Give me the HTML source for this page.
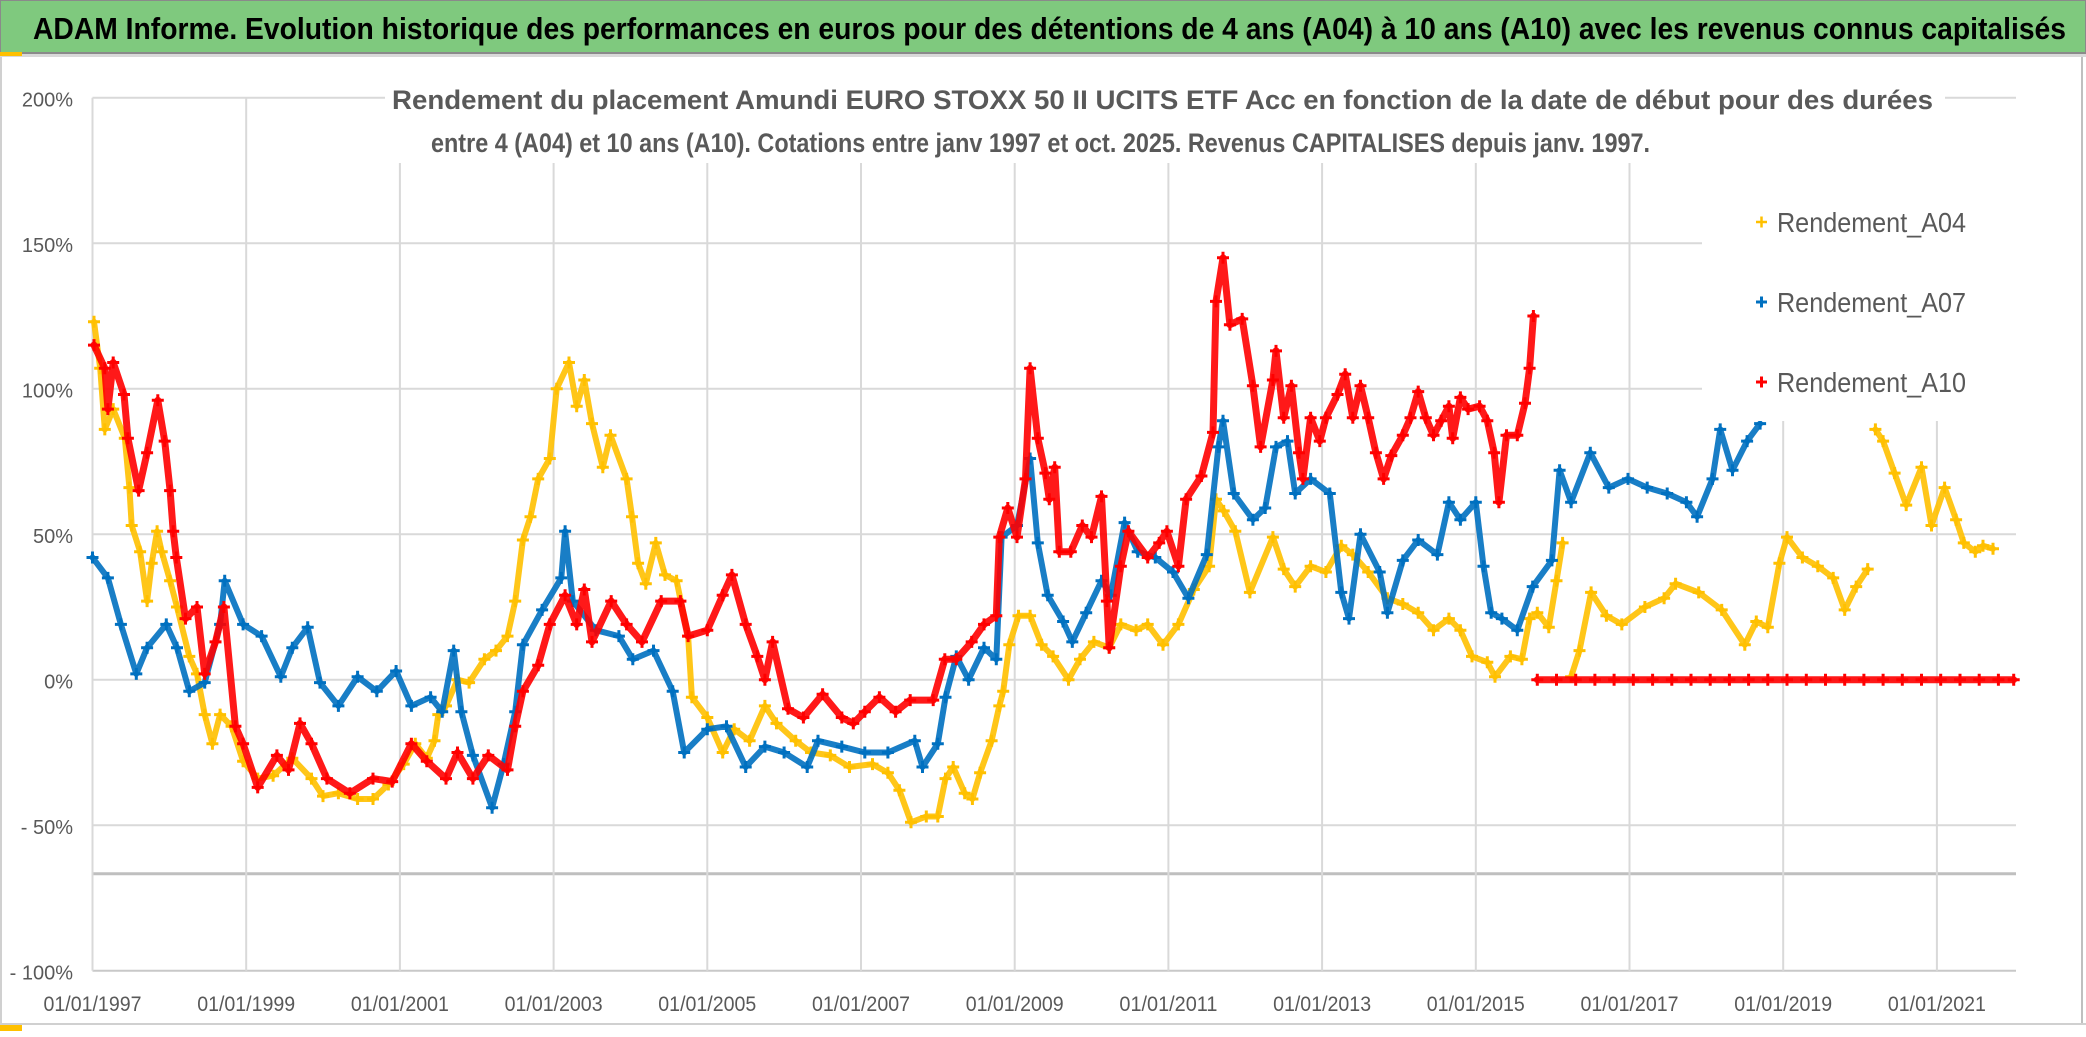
<!DOCTYPE html>
<html><head><meta charset="utf-8">
<style>
html,body{margin:0;padding:0;background:#fff;}
body{width:2086px;height:1032px;overflow:hidden;font-family:"Liberation Sans",sans-serif;}
svg text{font-family:"Liberation Sans",sans-serif;}
</style></head>
<body>
<svg id="chart" width="2086" height="1032" viewBox="0 0 2086 1032" xmlns="http://www.w3.org/2000/svg">
  <rect x="0" y="0" width="2086" height="1032" fill="#ffffff"/>
  <rect x="0" y="0" width="2086" height="53" fill="#7fc97e" stroke="#8a8a8a" stroke-width="2"/>
  <text x="33" y="39" font-size="31" font-weight="bold" fill="#000" textLength="2033" lengthAdjust="spacingAndGlyphs">ADAM Informe. Evolution historique des performances en euros pour des détentions de 4 ans (A04) à 10 ans (A10) avec les revenus connus capitalisés</text>
  <rect x="0" y="54" width="2086" height="3" fill="#d9d9d9"/>
  <rect x="0" y="52" width="22" height="4" fill="#ffc000"/>
  <line x1="1" y1="57" x2="1" y2="1025" stroke="#d0d0d0" stroke-width="2"/>
  <line x1="2082" y1="57" x2="2082" y2="1025" stroke="#bfbfbf" stroke-width="2"/>
  <line x1="0" y1="1024" x2="2086" y2="1024" stroke="#d0d0d0" stroke-width="2"/>
  <rect x="0" y="1025" width="22" height="6" fill="#ffc000"/>
  <g id="grid"></g>
  <g id="series"></g>
  <rect x="385" y="62" width="1560" height="101" fill="#ffffff"/>
  <text x="392" y="109" font-size="27" font-weight="bold" fill="#595959" textLength="1541" lengthAdjust="spacingAndGlyphs">Rendement du placement Amundi EURO STOXX 50 II UCITS ETF Acc en fonction de la date de début pour des durées</text>
  <text x="431" y="152" font-size="27" font-weight="bold" fill="#595959" textLength="1219" lengthAdjust="spacingAndGlyphs">entre 4 (A04) et 10 ans (A10). Cotations entre janv 1997 et oct. 2025. Revenus CAPITALISES depuis janv. 1997.</text>
  <rect x="1702" y="163" width="314" height="258" fill="#ffffff"/>
  <g>
    <g>
      <path d="M1756 222 h11 M1761.5 216.5 v11" stroke="#ffc000" stroke-width="2.5"/>
      <text x="1777" y="232" font-size="28" fill="#595959" textLength="189" lengthAdjust="spacingAndGlyphs">Rendement_A04</text>
    </g>
    <g>
      <path d="M1756 302 h11 M1761.5 296.5 v11" stroke="#0070c0" stroke-width="3"/>
      <text x="1777" y="312" font-size="28" fill="#595959" textLength="189" lengthAdjust="spacingAndGlyphs">Rendement_A07</text>
    </g>
    <g>
      <path d="M1756 382 h11 M1761.5 376.5 v11" stroke="#ff0000" stroke-width="3"/>
      <text x="1777" y="392" font-size="28" fill="#595959" textLength="189" lengthAdjust="spacingAndGlyphs">Rendement_A10</text>
    </g>
  </g>
  <g id="axes"></g>
</svg>
<script>
const yTicks = [200, 150, 100, 50, 0, -50, -100];
const yTickLabels = ["200%", "150%", "100%", "50%", "0%", "- 50%", "- 100%"];
const xTicks = [1997, 1999, 2001, 2003, 2005, 2007, 2009, 2011, 2013, 2015, 2017, 2019, 2021];
const xTickLabels = ["01/01/1997","01/01/1999","01/01/2001","01/01/2003","01/01/2005","01/01/2007","01/01/2009","01/01/2011","01/01/2013","01/01/2015","01/01/2017","01/01/2019","01/01/2021"];
const extraLineValue = -66.7;

const a04Dates = [1997.02,1997.1,1997.16,1997.27,1997.42,1997.48,1997.51,1997.62,1997.71,1997.77,1997.84,1997.9,1998.01,1998.1,1998.26,1998.36,1998.46,1998.56,1998.66,1998.81,1998.96,1999.15,1999.35,1999.6,1999.85,2000.0,2000.2,2000.45,2000.65,2000.85,2001.05,2001.2,2001.35,2001.45,2001.5,2001.6,2001.75,2001.9,2002.1,2002.25,2002.4,2002.5,2002.6,2002.7,2002.8,2002.95,2003.04,2003.2,2003.3,2003.4,2003.5,2003.64,2003.74,2003.95,2004.02,2004.1,2004.2,2004.33,2004.45,2004.6,2004.75,2004.8,2005.0,2005.2,2005.35,2005.55,2005.75,2005.9,2006.15,2006.35,2006.6,2006.85,2007.15,2007.35,2007.5,2007.65,2007.85,2008.0,2008.1,2008.2,2008.35,2008.45,2008.55,2008.7,2008.8,2008.85,2008.93,2009.05,2009.2,2009.35,2009.5,2009.7,2009.85,2010.03,2010.23,2010.38,2010.58,2010.73,2010.93,2011.13,2011.33,2011.53,2011.62,2011.72,2011.87,2012.06,2012.36,2012.5,2012.65,2012.85,2013.05,2013.25,2013.4,2013.6,2013.85,2014.05,2014.25,2014.45,2014.65,2014.8,2014.95,2015.15,2015.25,2015.45,2015.6,2015.7,2015.8,2015.95,2016.05,2016.13,2016.18,2016.24,2016.35,2016.5,2016.7,2016.9,2017.2,2017.45,2017.6,2017.9,2018.2,2018.5,2018.65,2018.8,2018.95,2019.05,2019.25,2019.45,2019.65,2019.8,2019.95,2020.1,2020.15,2020.2,2020.3,2020.45,2020.6,2020.8,2020.93,2021.1,2021.25,2021.35,2021.5,2021.6,2021.73];
const a04Values = [123,107,86,93,83,66,53,44,27,40,51,44,34,25,8,2,-12,-22,-12,-16,-28,-34,-33,-27,-34,-40,-39,-41,-41,-36,-29,-22,-27,-21,-12,-9,0,-1,7,10,15,27,48,56,69,76,100,109,94,103,88,73,84,69,56,40,33,47,36,34,15,-6,-13,-25,-17,-21,-9,-15,-21,-25,-26,-30,-29,-32,-38,-49,-47,-47,-34,-30,-39,-41,-32,-21,-9,-4,12,22,22,12,8,0,7,13,11,19,17,19,12,19,31,39,62,58,51,30,49,38,32,39,37,46,43,37,28,26,23,17,21,17,8,6,1,8,7,21,23,18,34,47,null,1,10,30,22,19,25,28,33,30,24,12,20,18,40,49,42,39,35,24,32,38,null,86,82,71,60,73,53,66,55,47,44,46,45];

const a07Dates = [1997.0,1997.2,1997.37,1997.57,1997.71,1997.96,1998.1,1998.26,1998.46,1998.66,1998.72,1998.96,1999.2,1999.45,1999.6,1999.8,1999.96,2000.2,2000.45,2000.7,2000.95,2001.15,2001.4,2001.55,2001.7,2001.8,2001.95,2002.2,2002.35,2002.5,2002.6,2002.85,2003.1,2003.15,2003.25,2003.55,2003.85,2004.03,2004.3,2004.55,2004.7,2005.0,2005.25,2005.5,2005.75,2006.0,2006.3,2006.44,2006.75,2007.05,2007.35,2007.7,2007.8,2008.0,2008.1,2008.24,2008.4,2008.6,2008.76,2008.83,2009.03,2009.2,2009.3,2009.43,2009.63,2009.75,2009.93,2010.13,2010.25,2010.43,2010.6,2010.83,2011.06,2011.26,2011.5,2011.65,2011.71,2011.85,2012.1,2012.26,2012.4,2012.55,2012.65,2012.85,2013.1,2013.25,2013.35,2013.5,2013.75,2013.85,2014.05,2014.25,2014.5,2014.65,2014.8,2015.0,2015.1,2015.2,2015.34,2015.54,2015.74,2015.99,2016.09,2016.24,2016.49,2016.73,2016.98,2017.23,2017.49,2017.74,2017.88,2018.08,2018.18,2018.34,2018.53,2018.7];
const a07Values = [42,35,19,2,11,19,11,-4,-1,19,34,19,15,1,11,18,-1,-9,1,-4,3,-9,-6,-11,10,-11,-26,-44,-29,-11,12,24,35,51,27,17,15,7,10,-4,-25,-17,-16,-30,-23,-25,-30,-21,-23,-25,-25,-21,-30,-22,-6,8,0,11,7,49,53,76,47,29,20,13,23,34,29,54,44,42,37,28,43,80,89,64,55,59,80,82,64,69,64,30,21,50,37,23,41,48,43,61,55,61,39,23,21,17,32,41,72,61,78,66,69,66,64,61,56,69,86,72,82,88];

const a10Dates = [1997.02,1997.16,1997.2,1997.27,1997.41,1997.46,1997.6,1997.71,1997.85,1997.94,1998.01,1998.05,1998.09,1998.21,1998.36,1998.46,1998.6,1998.71,1998.86,1998.96,1999.15,1999.4,1999.55,1999.7,1999.85,2000.05,2000.35,2000.65,2000.9,2001.15,2001.35,2001.6,2001.75,2001.95,2002.15,2002.4,2002.5,2002.6,2002.8,2002.95,2003.15,2003.3,2003.4,2003.5,2003.75,2003.95,2004.15,2004.4,2004.65,2004.75,2005.0,2005.2,2005.32,2005.5,2005.65,2005.75,2005.85,2006.05,2006.25,2006.5,2006.75,2006.9,2007.05,2007.24,2007.45,2007.64,2007.94,2008.09,2008.24,2008.44,2008.6,2008.76,2008.8,2008.91,2009.03,2009.14,2009.2,2009.3,2009.4,2009.45,2009.52,2009.58,2009.73,2009.88,2010.0,2010.13,2010.2,2010.23,2010.38,2010.48,2010.73,2010.88,2010.98,2011.13,2011.23,2011.43,2011.58,2011.62,2011.71,2011.8,2011.96,2012.1,2012.2,2012.36,2012.4,2012.5,2012.6,2012.7,2012.75,2012.85,2012.97,2013.05,2013.2,2013.3,2013.4,2013.5,2013.6,2013.7,2013.8,2013.9,2014.05,2014.15,2014.25,2014.35,2014.45,2014.55,2014.65,2014.7,2014.8,2014.9,2015.05,2015.15,2015.24,2015.3,2015.4,2015.54,2015.64,2015.7,2015.75,2015.78,2015.8,2016.05,2016.3,2016.55,2016.8,2017.05,2017.3,2017.55,2017.8,2018.05,2018.3,2018.55,2018.8,2019.05,2019.3,2019.55,2019.8,2020.05,2020.3,2020.55,2020.8,2021.05,2021.3,2021.55,2021.8,2022.0];
const a10Values = [115,107,93,109,98,83,65,78,96,82,65,51,42,21,25,2,13,25,-16,-22,-37,-26,-31,-15,-22,-34,-39,-34,-35,-22,-28,-34,-25,-34,-26,-31,-16,-4,5,19,29,19,31,13,27,19,13,27,27,15,17,29,36,19,8,0,13,-10,-13,-5,-13,-15,-11,-6,-11,-7,-7,7,7,13,19,22,49,59,49,69,107,83,71,62,73,44,44,53,49,63,27,11,39,51,42,47,51,39,62,70,85,130,145,122,124,101,80,103,113,90,101,78,69,90,82,90,98,105,90,101,90,78,69,77,84,90,99,90,84,89,94,83,97,93,94,89,78,61,84,84,95,107,125,null,0,0,0,0,0,0,0,0,0,0,0,0,0,0,0,0,0,0,0,0,0,0,0,0,0,0];

const NS = "http://www.w3.org/2000/svg";
const X0 = 92.5, PXYEAR = 76.85, Y0 = 679.7, PXPCT = 2.91;
const PLOT_RIGHT = 2016;
function xScale(year){ return X0 + (year - 1997) * PXYEAR; }
function yScale(v){ return Y0 - v * PXPCT; }
function mk(tag, attrs, parent){
  const el = document.createElementNS(NS, tag);
  for (const k in attrs) el.setAttribute(k, attrs[k]);
  parent.appendChild(el);
  return el;
}
const grid = document.getElementById('grid');
const axes = document.getElementById('axes');
const series = document.getElementById('series');

yTicks.forEach((t, i) => {
  const y = yScale(t);
  const ln = mk('line', {x1: X0, x2: PLOT_RIGHT, y1: y, y2: y, stroke: t === -100 ? '#c8c8c8' : '#d9d9d9', 'stroke-width': 2}, grid);
  
  
  const tx = mk('text', {x: 73, y: y + 9, 'text-anchor': 'end', 'font-size': 20, fill: '#595959'}, axes);
  tx.textContent = yTickLabels[i];
  
  
});
{
  const y = yScale(extraLineValue);
  const ln = mk('line', {x1: X0, x2: PLOT_RIGHT, y1: y, y2: y, stroke: '#bfbfbf', 'stroke-width': 3}, grid);
  
  
}
xTicks.forEach((t, i) => {
  const x = xScale(t);
  const ln = mk('line', {x1: x, x2: x, y1: yScale(200), y2: yScale(-100), stroke: '#d9d9d9', 'stroke-width': 2}, grid);
  
  
  const tx = mk('text', {x: x - 49, y: 1011, 'font-size': 21, fill: '#595959', textLength: 98, lengthAdjust: 'spacingAndGlyphs'}, axes);
  tx.textContent = xTickLabels[i];
  
  
});

function drawSeries(dates, values, color, name, lw, ms){
  const g = mk('g', {}, series);
  
  
  let d = '', pen = false, marks = '';
  for (let i = 0; i < dates.length; i++){
    const v = values[i];
    if (v === null || v === undefined){ pen = false; continue; }
    const x = xScale(dates[i]), y = yScale(v);
    d += (pen ? 'L' : 'M') + x.toFixed(1) + ' ' + y.toFixed(1) + ' ';
    pen = true;
    marks += 'M' + (x - ms).toFixed(1) + ' ' + y.toFixed(1) + 'h' + (2 * ms) + 'M' + x.toFixed(1) + ' ' + (y - ms).toFixed(1) + 'v' + (2 * ms) + ' ';
  }
  const line = mk('path', {d: d, fill: 'none', stroke: color, 'stroke-width': lw, 'stroke-linejoin': 'round', 'stroke-linecap': 'round', opacity: 0.9}, g);
  
  
  const mp = mk('path', {d: marks, fill: 'none', stroke: color, 'stroke-width': 3}, g);
  
  
}
drawSeries(a04Dates, a04Values, '#ffc000', 'series-a04', 6, 6);
drawSeries(a07Dates, a07Values, '#0070c0', 'series-a07', 6, 6);
drawSeries(a10Dates, a10Values, '#ff0000', 'series-a10', 7, 6);
</script>
</body></html>
